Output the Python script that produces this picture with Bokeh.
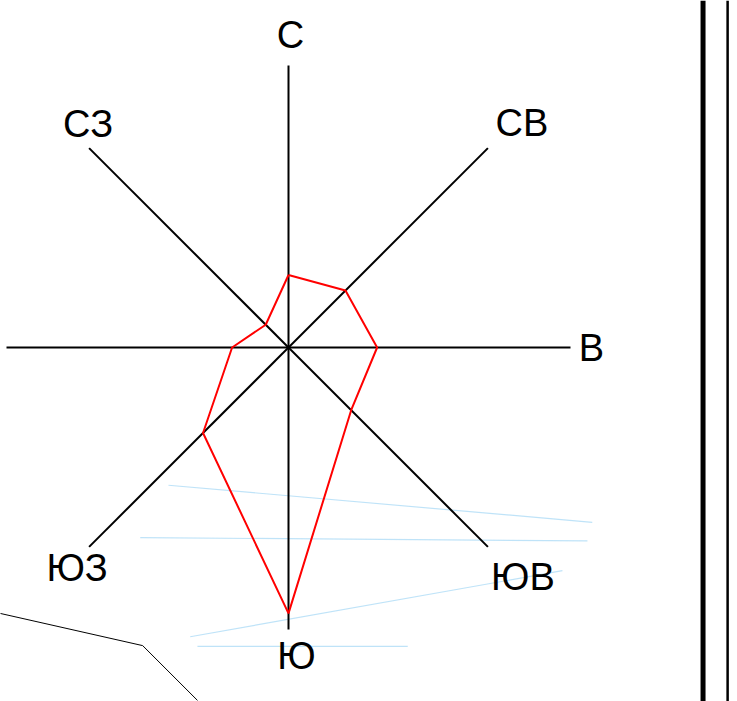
import numpy as np
from bokeh.plotting import figure
from bokeh.models import ColumnDataSource, Range1d, Span
from bokeh.embed import file_html
from bokeh.resources import INLINE
from bokeh.core.properties import value

# ---- data ----
directions = ["С", "СВ", "В", "ЮВ", "Ю", "ЮЗ", "З", "СЗ"]
angles_deg = [90, 45, 0, -45, -90, -135, 180, 135]
frequency = [9, 10, 11, 11, 33, 15, 7, 4]   # % of observations
axis_max = 35

# label nudges in screen px (dx, dy down) relative to axis end
label_dx = [2, 34, 21, 35, 8, -12, -25, -1]
label_dy = [-31, -25, 0, 30, 26, 21, 0, -24]
show_label = [True, True, True, True, True, True, False, True]

# stray scan marks (data units)
scan_blue_x = [[-14.9, 37.7], [-18.4, 37.1], [-12.2, 34.0], [-11.3, 14.8]]
scan_blue_y = [[-17.1, -21.7], [-23.6, -24.0], [-35.9, -27.7], [-37.1, -37.1]]
scan_black_x = [-35.8, -18.1, -11.3]
scan_black_y = [-33.0, -37.0, -43.8]
border_x = [51.45, 54.5]

# ---- geometry ----
W, H = 737, 701
cx, cy = 288, 347
s = 282 / axis_max

ang = np.radians(angles_deg)
ex = axis_max * np.cos(ang)
ey = axis_max * np.sin(ang)
rx = np.array(frequency) * np.cos(ang)
ry = np.array(frequency) * np.sin(ang)

p = figure(width=W, height=H, output_backend="svg", toolbar_location=None,
           x_range=Range1d(-cx / s, (W - cx) / s),
           y_range=Range1d(-(H - cy) / s, cy / s),
           x_axis_location=None, y_axis_location=None,
           min_border=0, outline_line_color=None,
           background_fill_color="white", border_fill_color="white")
p.grid.visible = False

# scan artifacts
p.multi_line(xs=scan_blue_x, ys=scan_blue_y, line_color="#b8e0f7", line_width=1.2, line_alpha=0.9)
p.line(scan_black_x, scan_black_y, line_color="black", line_width=1)

# axes
p.segment(x0=[0] * 8, y0=[0] * 8, x1=ex, y1=ey, line_color="black", line_width=2)

# wind rose polygon
p.line(np.append(rx, rx[0]), np.append(ry, ry[0]), line_color="#ff0000", line_width=2)

# labels
idx = [i for i in range(8) if show_label[i]]
lsrc = ColumnDataSource(dict(
    x=[ex[i] for i in idx], y=[ey[i] for i in idx],
    t=[directions[i] for i in idx],
    dx=[label_dx[i] for i in idx], dy=[label_dy[i] for i in idx]))
p.text(x="x", y="y", text="t", x_offset="dx", y_offset="dy", source=lsrc,
       text_font=value("Liberation Sans"), text_font_size="38px",
       text_align="center", text_baseline="middle", text_color="black")

# right border double lines
p.add_layout(Span(location=border_x[0], dimension="height", line_color="black", line_width=5))
p.add_layout(Span(location=border_x[1], dimension="height", line_color="black", line_width=2.5))

open("out.html", "w").write(file_html(p, INLINE))
